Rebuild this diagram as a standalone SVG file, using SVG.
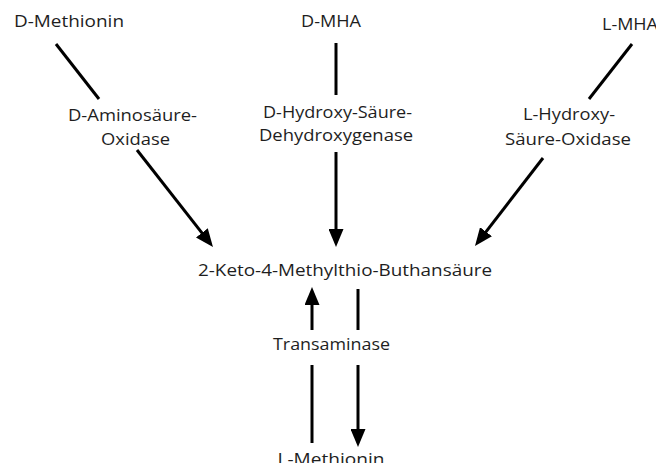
<svg xmlns="http://www.w3.org/2000/svg" width="656" height="463" viewBox="0 0 656 463">
<style>
text{font-family:"Open Sans","Liberation Sans",sans-serif;font-size:16px;fill:#1e1e1e;text-anchor:middle}
.c{stroke:#000;stroke-width:3;fill:none}
</style>
<defs>
<marker id="ah" markerUnits="userSpaceOnUse" markerWidth="18" markerHeight="15" refX="8" refY="7.5" orient="auto">
<path d="M0,0 L18,7.5 L0,15 z" fill="#000"/>
</marker>
</defs>
<rect width="656" height="463" fill="#fff"/>
<g id="connectors">
<line class="c" x1="56" y1="44" x2="99" y2="99"/>
<line class="c" x1="137" y1="150" x2="206.8" y2="239.1" marker-end="url(#ah)"/>
<line class="c" x1="336" y1="43" x2="336" y2="95"/>
<line class="c" x1="336" y1="152" x2="336" y2="237" marker-end="url(#ah)"/>
<line class="c" x1="632" y1="44" x2="589" y2="99"/>
<line class="c" x1="543" y1="158" x2="481.1" y2="238.1" marker-end="url(#ah)"/>
<line class="c" x1="312" y1="365" x2="312" y2="443"/>
<line class="c" x1="312" y1="330" x2="312" y2="297" marker-end="url(#ah)"/>
<line class="c" x1="358" y1="289" x2="358" y2="330"/>
<line class="c" x1="358" y1="365" x2="358" y2="437" marker-end="url(#ah)"/>
</g>
<g id="d-methionin"><text x="69" y="27" textLength="110" lengthAdjust="spacingAndGlyphs">D-Methionin</text></g>
<g id="d-mha"><text x="331" y="27" textLength="60" lengthAdjust="spacingAndGlyphs">D-MHA</text></g>
<g id="l-mha"><text x="602" y="30" style="text-anchor:start" textLength="56" lengthAdjust="spacingAndGlyphs">L-MHA</text></g>
<g id="d-aminosaeure-oxidase">
<text x="132.5" y="121" textLength="129" lengthAdjust="spacingAndGlyphs">D-Aminosäure-</text>
<text x="135.5" y="145" textLength="69" lengthAdjust="spacingAndGlyphs">Oxidase</text>
</g>
<g id="d-hydroxy-saeure-dehydroxygenase">
<text x="337.5" y="118" textLength="149" lengthAdjust="spacingAndGlyphs">D-Hydroxy-Säure-</text>
<text x="336" y="141" textLength="154" lengthAdjust="spacingAndGlyphs">Dehydroxygenase</text>
</g>
<g id="l-hydroxy-saeure-oxidase">
<text x="569" y="120" textLength="92" lengthAdjust="spacingAndGlyphs">L-Hydroxy-</text>
<text x="568" y="145" textLength="126" lengthAdjust="spacingAndGlyphs">Säure-Oxidase</text>
</g>
<g id="keto"><text x="345" y="276" textLength="294" lengthAdjust="spacingAndGlyphs">2-Keto-4-Methylthio-Buthansäure</text></g>
<g id="transaminase"><text x="331.5" y="350" textLength="117" lengthAdjust="spacingAndGlyphs">Transaminase</text></g>
<g id="l-methionin"><text x="331" y="465" textLength="107" lengthAdjust="spacingAndGlyphs">L-Methionin</text></g>
</svg>
